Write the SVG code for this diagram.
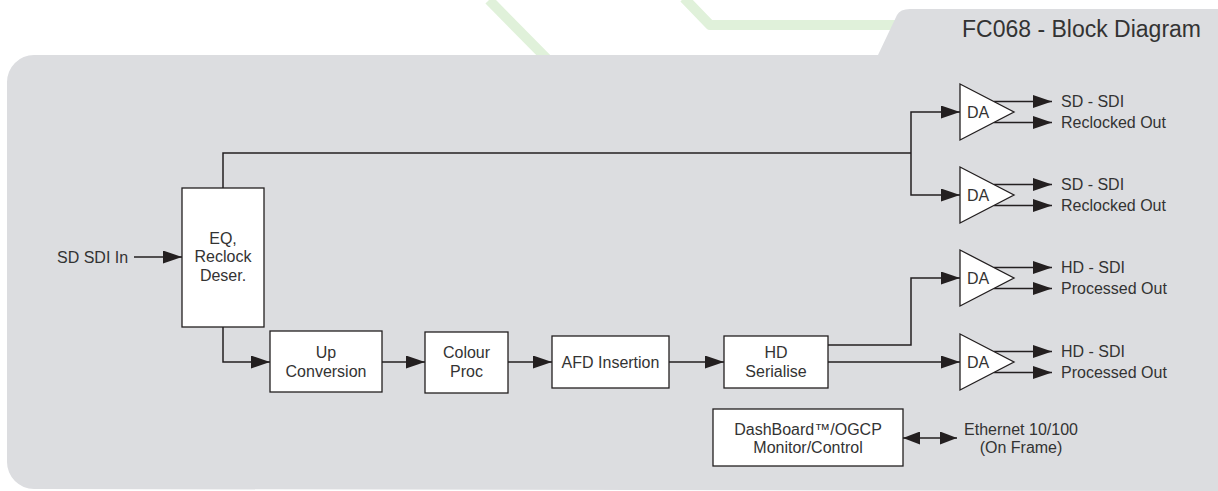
<svg xmlns="http://www.w3.org/2000/svg" width="1218" height="491" viewBox="0 0 1218 491">
<defs>
<marker id="ah" viewBox="0 0 19 13" markerWidth="19" markerHeight="13" refX="19" refY="6.5" orient="auto-start-reverse" markerUnits="userSpaceOnUse">
<path d="M0,0 L19,6.5 L0,13 Z" fill="#231f20"/>
</marker>
<marker id="ahs" viewBox="0 0 17 13" markerWidth="17" markerHeight="13" refX="17" refY="6.5" orient="auto-start-reverse" markerUnits="userSpaceOnUse">
<path d="M0,0 L17,6.5 L0,13 Z" fill="#231f20"/>
</marker>
</defs>
<style>
.t{font-family:"Liberation Sans",Arial,sans-serif;font-size:16px;fill:#333333}
.c{text-anchor:middle}
.box{fill:#ffffff;stroke:#231f20;stroke-width:1.3}
.w{fill:none;stroke:#231f20;stroke-width:1.5}
.a{marker-end:url(#ah)}
.green{fill:none;stroke:#e0f1da;stroke-linejoin:round}
</style>
<rect x="0" y="0" width="1218" height="491" fill="#ffffff"/>
<g id="decor">
<path class="green" d="M489,0 L560,72" stroke-width="10"/>
<path class="green" d="M684,-2 L710,25 L910,25" stroke-width="10"/>
</g>
<g id="panel">
<path d="M7,82 A27,27 0 0 1 34,55 L878,55 L897,15 Q900,9 910,9 L1218,9 L1218,491 L34,489 A27,27 0 0 1 7,462 Z" fill="#dcdde0"/>
<text class="t" x="1201" y="37" text-anchor="end" style="font-size:23px">FC068 - Block Diagram</text>
</g>
<g id="connectors">
<path class="w a" d="M134,257 H182"/>
<path class="w" d="M223,188 V153 H911"/>
<path class="w a" d="M911,153 V112 H960"/>
<path class="w a" d="M911,153 V195 H960"/>
<path class="w a" d="M223,327 V362 H270"/>
<path class="w a" d="M382,362 H425"/>
<path class="w a" d="M508,362 H552"/>
<path class="w a" d="M669,362 H724"/>
<path class="w a" d="M828,345 H911 V278 H960"/>
<path class="w a" d="M828,362 H960"/>
<path class="w a" d="M994,101.5 H1052"/>
<path class="w a" d="M994,122.5 H1052"/>
<path class="w a" d="M994,184.5 H1052"/>
<path class="w a" d="M994,205.5 H1052"/>
<path class="w a" d="M994,267.5 H1052"/>
<path class="w a" d="M994,288.5 H1052"/>
<path class="w a" d="M994,351.5 H1052"/>
<path class="w a" d="M994,372.5 H1052"/>
<path class="w" d="M903,438 H957" marker-start="url(#ahs)" marker-end="url(#ahs)"/>
</g>
<g id="input-label">
<text class="t" x="57" y="262.5">SD SDI In</text>
</g>
<g id="eq">
<rect class="box" x="182" y="188" width="82" height="139"/>
<text class="t c" x="223" y="243.5">EQ,</text>
<text class="t c" x="223" y="262">Reclock</text>
<text class="t c" x="223" y="280.5">Deser.</text>
</g>
<g id="upconv">
<rect class="box" x="270" y="331" width="112" height="61"/>
<text class="t c" x="326" y="357.5">Up</text>
<text class="t c" x="326" y="376.5">Conversion</text>
</g>
<g id="colour">
<rect class="box" x="425" y="332" width="83" height="61"/>
<text class="t c" x="466.5" y="357.5">Colour</text>
<text class="t c" x="466.5" y="376.5">Proc</text>
</g>
<g id="afd">
<rect class="box" x="552" y="336" width="117" height="52"/>
<text class="t c" x="610.5" y="367.5">AFD Insertion</text>
</g>
<g id="hdser">
<rect class="box" x="724" y="336" width="104" height="52"/>
<text class="t c" x="776" y="357.5">HD</text>
<text class="t c" x="776" y="376.5">Serialise</text>
</g>
<g id="da1">
<path class="box" d="M960,84 L1014,112 L960,140 Z"/>
<text class="t" x="967" y="117.5">DA</text>
</g>
<g id="da2">
<path class="box" d="M960,167 L1014,195 L960,223 Z"/>
<text class="t" x="967" y="200.5">DA</text>
</g>
<g id="da3">
<path class="box" d="M960,250 L1014,278 L960,306 Z"/>
<text class="t" x="967" y="283.5">DA</text>
</g>
<g id="da4">
<path class="box" d="M960,334 L1014,362 L960,390 Z"/>
<text class="t" x="967" y="367.5">DA</text>
</g>
<g id="out-labels">
<text class="t" x="1061" y="107">SD - SDI</text>
<text class="t" x="1061" y="128">Reclocked Out</text>
<text class="t" x="1061" y="190">SD - SDI</text>
<text class="t" x="1061" y="211">Reclocked Out</text>
<text class="t" x="1061" y="273">HD - SDI</text>
<text class="t" x="1061" y="294">Processed Out</text>
<text class="t" x="1061" y="357">HD - SDI</text>
<text class="t" x="1061" y="378">Processed Out</text>
</g>
<g id="dashboard">
<rect class="box" x="713" y="409" width="190" height="57"/>
<text class="t c" x="808" y="434.5">DashBoard™/OGCP</text>
<text class="t c" x="808" y="452.5">Monitor/Control</text>
</g>
<g id="ethernet">
<text class="t c" x="1021" y="434.5">Ethernet 10/100</text>
<text class="t c" x="1021" y="452.5">(On Frame)</text>
</g>
</svg>
